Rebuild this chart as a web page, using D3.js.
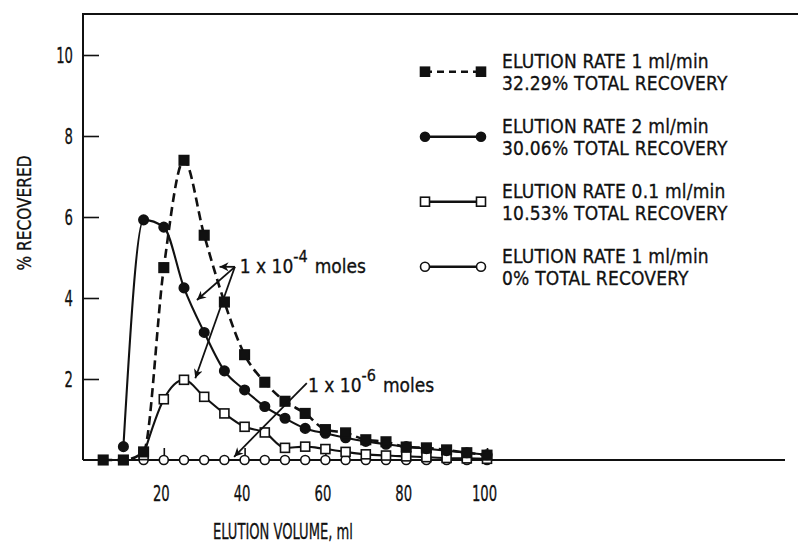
<!DOCTYPE html>
<html>
<head>
<meta charset="utf-8">
<script src="https://cdn.jsdelivr.net/npm/d3@7"></script>
<style>
	body { margin: 0; background: #fff; }
	svg { display: block; }
	text { fill: #111; stroke: #111; stroke-width: 0.3px; }
</style>
</head>
<body>
<div id="chart"></div>
<script>
// series, % recovered per 5 ml fraction
var volSq = [5, 10, 15, 20, 25, 30, 35, 40, 45, 50, 55, 60, 65, 70, 75, 80, 85, 90, 95, 100];
var pctSq = [0, 0, 0.2, 4.75, 7.4, 5.55, 3.9, 2.6, 1.92, 1.45, 1.15, 0.75, 0.67, 0.5, 0.45, 0.32, 0.3, 0.25, 0.18, 0.12];

var volDot = [10, 15, 20, 25, 30, 35, 40, 45, 50, 55, 60, 65, 70, 75, 80, 85, 90, 95, 100];
var pctDot = [0.33, 5.93, 5.75, 4.25, 3.15, 2.2, 1.73, 1.32, 1.03, 0.78, 0.66, 0.55, 0.46, 0.39, 0.33, 0.28, 0.23, 0.18, 0.13];

var volOpenSq = [15, 20, 25, 30, 35, 40, 45, 50, 55, 60, 65, 70, 75, 80, 85, 90, 95, 100];
var pctOpenSq = [0.12, 1.5, 1.98, 1.56, 1.15, 0.82, 0.68, 0.3, 0.33, 0.27, 0.2, 0.14, 0.11, 0.09, 0.07, 0.05, 0.04, 0.03];

var volOpenDot = [15, 20, 25, 30, 35, 40, 45, 50, 55, 60, 65, 70, 75, 80, 85, 90, 95, 100];
var pctOpenDot = [0, 0, 0, 0, 0, 0, 0, 0, 0, 0, 0, 0, 0, 0, 0, 0, 0, 0];

var xTicks = [20, 40, 60, 80, 100];
var yTicks = [2, 4, 6, 8, 10];

var legendTop = ['ELUTION RATE 1 ml/min', 'ELUTION RATE 2 ml/min', 'ELUTION RATE 0.1 ml/min', 'ELUTION RATE 1 ml/min'];
var legendBottom = ['32.29% TOTAL RECOVERY', '30.06% TOTAL RECOVERY', '10.53% TOTAL RECOVERY', '0% TOTAL RECOVERY'];

// annotation arrows in data units: [fromVol, fromPct, toVol, toPct]
var arrows4 = [[37.6, 4.77, 33.8, 4.77], [37.6, 4.77, 28.2, 3.95], [37.6, 4.77, 27.8, 2.02]];
var arrows6 = [[55.4, 1.9, 37.4, 0.08]];

var W = 798, H = 543;
var FONT = '"DejaVu Sans Condensed", "Liberation Sans Narrow", "Arial Narrow", sans-serif';

var x = d3.scaleLinear().domain([0, 100]).range([83, 487]);
var y = d3.scaleLinear().domain([0, 10]).range([460, 55]);

var svg = d3.select('#chart').append('svg')
	.attr('width', W).attr('height', H)
	.style('font-family', FONT);

svg.append('rect').attr('width', W).attr('height', H).attr('fill', '#fff');

var defs = svg.append('defs');
defs.append('marker')
	.attr('id', 'head')
	.attr('viewBox', '0 0 10 10')
	.attr('refX', 10).attr('refY', 5)
	.attr('markerWidth', 11).attr('markerHeight', 9)
	.attr('markerUnits', 'userSpaceOnUse')
	.attr('orient', 'auto')
	.append('path')
	.attr('d', 'M0,0 L10,5 L0,10 L3,5 Z')
	.attr('fill', '#111');

// frame: top rule, left axis, baseline
svg.append('line').attr('x1', x(0)).attr('x2', 798).attr('y1', 14).attr('y2', 14)
	.attr('stroke', '#111').attr('stroke-width', 2);
svg.append('line').attr('x1', x(0)).attr('x2', x(0)).attr('y1', 13).attr('y2', y(0))
	.attr('stroke', '#111').attr('stroke-width', 2);
svg.append('line').attr('x1', x(0)).attr('x2', 785).attr('y1', y(0)).attr('y2', y(0))
	.attr('stroke', '#111').attr('stroke-width', 2);

// narrow, tall lettering of the original: squeeze digits to ~8.4px each
function squeeze(sel) {
	sel.attr('textLength', function(d) { return String(d).length * 8.4; })
		.attr('lengthAdjust', 'spacingAndGlyphs');
}

var yAxis = d3.axisLeft(y).tickValues(yTicks).tickFormat(d3.format('d'))
	.tickSizeInner(-16).tickSizeOuter(0).tickPadding(10);
var gy = svg.append('g').attr('transform', 'translate(' + x(0) + ',0)').call(yAxis);
gy.select('.domain').remove();
gy.selectAll('line').attr('stroke', '#111').attr('stroke-width', 1.6);
gy.selectAll('text').attr('font-size', 22).attr('fill', '#111').attr('font-family', FONT).call(squeeze);

var xAxis = d3.axisBottom(x).tickValues(xTicks).tickFormat(d3.format('d'))
	.tickSizeInner(-12).tickSizeOuter(0).tickPadding(25);
var gx = svg.append('g').attr('transform', 'translate(0,' + y(0) + ')').call(xAxis);
gx.select('.domain').remove();
gx.selectAll('line').attr('stroke', '#111').attr('stroke-width', 1.6);
gx.selectAll('text').attr('font-size', 22).attr('fill', '#111').attr('font-family', FONT)
	.attr('dx', -3).call(squeeze);

svg.append('text')
	.attr('transform', 'translate(31,213) rotate(-90)')
	.attr('text-anchor', 'middle')
	.attr('font-size', 20)
	.attr('textLength', 115).attr('lengthAdjust', 'spacingAndGlyphs')
	.text('% RECOVERED');

svg.append('text')
	.attr('x', 283).attr('y', 539)
	.attr('text-anchor', 'middle')
	.attr('font-size', 21)
	.attr('textLength', 140).attr('lengthAdjust', 'spacingAndGlyphs')
	.text('ELUTION VOLUME, ml');

function pts(vols, pcts) {
	return vols.map(function(v, i) { return [v, pcts[i]]; });
}

var line = d3.line()
	.x(function(d) { return x(d[0]); })
	.y(function(d) { return y(d[1]); })
	.curve(d3.curveMonotoneX);

var series = [
	{ data: pts(volOpenDot, pctOpenDot), dash: null, shape: 'circle', fill: '#fff' },
	{ data: pts(volOpenSq, pctOpenSq), dash: null, shape: 'square', fill: '#fff' },
	{ data: pts(volDot, pctDot), dash: null, shape: 'circle', fill: '#111' },
	{ data: pts(volSq, pctSq), dash: '9,5', shape: 'square', fill: '#111' }
];

series.forEach(function(s) {
	svg.append('path')
		.datum(s.data)
		.attr('d', line)
		.attr('fill', 'none')
		.attr('stroke', '#111')
		.attr('stroke-width', s.dash ? 2.6 : 2.1)
		.attr('stroke-dasharray', s.dash);
});

function drawMarker(g, shape, fill, cx, cy, size) {
	if (shape == 'circle') {
		g.append('circle').attr('cx', cx).attr('cy', cy).attr('r', size / 2)
			.attr('fill', fill).attr('stroke', '#111').attr('stroke-width', 1.6);
	} else {
		g.append('rect').attr('x', cx - size / 2).attr('y', cy - size / 2)
			.attr('width', size).attr('height', size)
			.attr('fill', fill).attr('stroke', '#111').attr('stroke-width', 1.6);
	}
}

series.forEach(function(s) {
	var g = svg.append('g');
	s.data.forEach(function(d) {
		drawMarker(g, s.shape, s.fill, x(d[0]), y(d[1]), s.fill == '#fff' ? 9 : 9.5);
	});
});

// arrows and labels
arrows4.concat(arrows6).forEach(function(a) {
	svg.append('line')
		.attr('x1', x(a[0])).attr('y1', y(a[1]))
		.attr('x2', x(a[2])).attr('y2', y(a[3]))
		.attr('stroke', '#111').attr('stroke-width', 1.8)
		.attr('marker-end', 'url(#head)');
});

function moles(v, p, exp) {
	var t = svg.append('text').attr('x', x(v)).attr('y', y(p)).attr('font-size', 19);
	t.append('tspan').text('1 x 10');
	t.append('tspan').attr('dy', -11).attr('font-size', 16).text(exp);
	t.append('tspan').attr('dy', 11).attr('dx', 7).text('moles');
}
moles(38.8, 4.62, '-4');
moles(55.7, 1.68, '-6');

// legend
var legendSeries = [series[3], series[2], series[1], series[0]];
legendSeries.forEach(function(s, i) {
	var cy = 71.7 + i * 65;
	var g = svg.append('g');
	g.append('line').attr('x1', 425).attr('x2', 481).attr('y1', cy).attr('y2', cy)
		.attr('stroke', '#111').attr('stroke-width', s.dash ? 2.6 : 2.4)
		.attr('stroke-dasharray', s.dash ? '7,5' : null);
	drawMarker(g, s.shape, s.fill, 425, cy, 9);
	drawMarker(g, s.shape, s.fill, 481, cy, 9);
	g.append('text').attr('x', 502).attr('y', cy - 3.5).attr('font-size', 19)
		.attr('letter-spacing', 0.2).text(legendTop[i]);
	g.append('text').attr('x', 502).attr('y', cy + 18.5).attr('font-size', 19)
		.attr('letter-spacing', 0.2).text(legendBottom[i]);
});
</script>
</body>
</html>
